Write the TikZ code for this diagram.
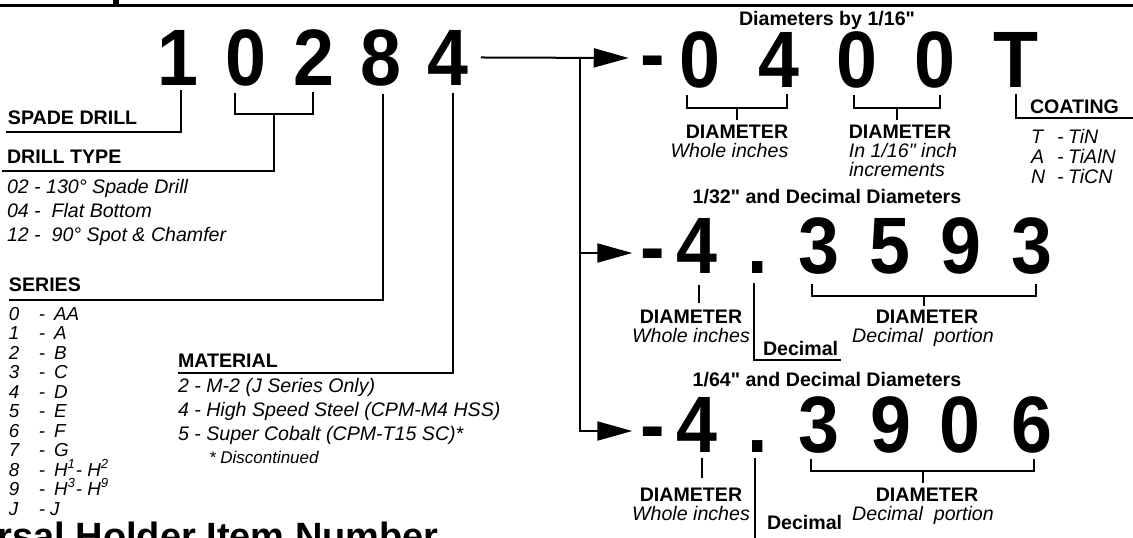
\documentclass[tikz,border=0pt]{standalone}
\usepackage{fontspec}
\setmainfont{Liberation Sans}[Ligatures=TeXOff]
\newfontfamily\digitfont{Liberation Sans}[Ligatures=TeXOff, FakeStretch=0.92]
\usetikzlibrary{arrows.meta, calc}
\tikzset{
  every node/.style={inner sep=0pt, outer sep=0pt},
  digit/.style={font=\digitfont\fontsize{40}{40}\selectfont\bfseries, anchor=base},
  head/.style={font=\fontsize{9.8}{11}\selectfont\bfseries},
  note/.style={font=\fontsize{9.8}{11}\selectfont\itshape},
  series/.style={font=\fontsize{9.4}{10}\selectfont\itshape, anchor=base west},
  link/.style={line width=1pt},
  arrow/.style={link, -{Triangle[length=17.5pt, width=9.5pt]}},
  banner/.style={font=\fontsize{19}{20}\selectfont\bfseries, anchor=base west},
}
% bracket under a run of digits: name, left digit, right digit, left dx, right dx, gap, drop
\newcommand{\digitbracket}[7]{
  \path ($(#2.south)+(#4,#6)$) coordinate (#1L) ($(#3.south)+(#5,#6)$) coordinate (#1R);
  \draw[link] (#1L) -- ++(0,#7) -| (#1R);
  \coordinate (#1) at ($(#1L)!0.5!(#1R)+(0,#7)$);
}
\begin{document}
\begin{tikzpicture}[x=0.5pt, y=-0.5pt]
  \useasboundingbox (0,0) rectangle (1133,537);
  \clip (0,0) rectangle (1133,537);
  % top rule
  \draw[line width=1.5pt] (0,5) -- (1133,5);
  \fill (113,0) rectangle (119,5);
  % item number
  \node[digit] (d1) at (178,85) {1};
  \node[digit] (d2) at (245.5,85) {0};
  \node[digit] (d3) at (313.5,85) {2};
  \node[digit] (d4) at (380.5,85) {8};
  \node[digit] (d5) at (447.5,85) {4};
  % spade drill and drill type
  \node[head, anchor=base west] (spade) at (8,124) {SPADE DRILL};
  \draw[link] ($(d1.south)+(3,5)$) |- ($(spade.base west)+(-2,8)$);
  \node[head, anchor=base west] (dtype) at (7,163) {DRILL TYPE};
  \digitbracket{br02}{d2}{d3}{-10.5}{-0.5}{7}{21}
  \draw[link] (br02) |- ($(dtype.base west)+(-5,8)$);
  \node[note, anchor=base west] (t02) at (7,193) {02 - 130° Spade Drill};
  \node[note, anchor=base west] (t04) at (7,217) {04 -\ \ Flat Bottom};
  \node[note, anchor=base west] (t12) at (7,241) {12 -\ \ 90° Spot \& Chamfer};
  % series
  \node[head, anchor=base west] (series) at (9,291) {SERIES};
  \draw[link] ($(d4.south)+(2.5,8)$) |- ($(series.base west)+(0,9)$);
  \foreach \code/\grade/\gx [count=\k from 0] in {0/AA/54, 1/A/54, 2/B/54, 3/C/54, 4/D/54, 5/E/54, 6/F/54, 7/G/54,
      8/{H\textsuperscript{1}- H\textsuperscript{2}}/54, 9/{H\textsuperscript{3}- H\textsuperscript{9}}/54, J/J/50} {
    \node[series] (sc\k) at (9,320+19.5*\k) {\code};
    \node[series] (sd\k) at (39,320+19.5*\k) {-};
    \node[series] (sg\k) at (\gx,320+19.5*\k) {\grade};
  }
  % material
  \node[head, anchor=base west] (material) at (178,367) {MATERIAL};
  \draw[link] ($(d5.south)+(5.5,8)$) |- ($(material.base west)+(0,6)$);
  \node[note, anchor=base west] (m2) at (178,392) {2 - M-2 (J Series Only)};
  \node[note, anchor=base west] (m4) at (178,416) {4 - High Speed Steel (CPM-M4 HSS)};
  \node[note, anchor=base west] (m5) at (178,440) {5 - Super Cobalt (CPM-T15 SC)*};
  \node[font=\fontsize{8.5}{10}\selectfont\itshape, anchor=base west] (disc) at (209,463) {* Discontinued};
  \node[banner] (banner) at (-106,549) {Universal Holder Item Number};

  % diameters by 1/16"
  \node[head, anchor=base] (capA) at (827,25) {Diameters by 1/16"};
  \node[digit] (hA) at (653,81) {-};
  \node[digit] (a1) at (700,87) {0};
  \node[digit] (a2) at (778.5,87) {4};
  \node[digit] (a3) at (856.5,87) {0};
  \node[digit] (a4) at (935,87) {0};
  \node[digit] (aT) at (1016,87) {T};
  \coordinate (bus) at ($(d5.east)+(112.5,0)$);
  \draw[arrow] ($(d5.east)+(13,0)$) -- ($(hA.base west)+(-12,-23)$);
  \digitbracket{brA1}{a1}{a2}{-13}{8.5}{7}{13}
  \digitbracket{brA2}{a3}{a4}{-2.5}{5}{7}{13}
  \node[head, anchor=base] (diaA1) at (737,138) {DIAMETER};
  \node[note, anchor=base] (wholeA) at (729.5,157) {Whole inches};
  \draw[link] (brA1) -- ($(brA1 |- diaA1.north)+(0,-5)$);
  \node[head, anchor=base] (diaA2) at (900,138) {DIAMETER};
  \node[note, anchor=base] (sixteenA) at (903,157) {In 1/16" inch};
  \node[note, anchor=base] (incA) at (897,176) {increments};
  \draw[link] (brA2) -- ($(brA2 |- diaA2.north)+(0,-5)$);
  % coating
  \node[head, anchor=base west] (coat) at (1030,113) {COATING};
  \coordinate (coatEnd) at (1140,118);
  \draw[link] ($(aT.south)+(0,7)$) |- (coatEnd);
  \foreach \c/\v [count=\k from 0] in {T/TiN, A/TiAlN, N/TiCN} {
    \node[note, anchor=base west] (cc\k) at (1031,143+20*\k) {\c};
    \node[note, anchor=base west] (cd\k) at (1057,143+20*\k) {-};
    \node[note, anchor=base west] (cv\k) at (1068,143+20*\k) {\v};
  }

  % 1/32" and decimal
  \node[head, anchor=base] (capB) at (827,203) {1/32" and Decimal Diameters};
  \node[digit] (hB) at (652.5,274) {-};
  \node[digit] (b1) at (696.5,273) {4};
  \node[digit] (bdot) at (757.5,273) {.};
  \node[digit] (b2) at (818.5,273) {3};
  \node[digit] (b3) at (889.5,273) {5};
  \node[digit] (b4) at (961,273) {9};
  \node[digit] (b5) at (1031.5,273) {3};
  \draw[arrow] (bus) |- ($(hB.base west)+(-8,-21)$);
  \node[head, anchor=base] (diaB1) at (691,323) {DIAMETER};
  \node[note, anchor=base] (wholeB) at (691,342) {Whole inches};
  \draw[link] ($(b1.south)+(2.5,12)$) -- ($(b1.south |- diaB1.north)+(2.5,-7)$);
  \node[head, anchor=base west] (decB) at (763,355) {Decimal};
  \draw[link] ($(bdot.south)+(-3.5,10)$) |- ($(decB.base east)+(3,5)$);
  \digitbracket{brB}{b2}{b5}{-6.5}{4.5}{10}{12}
  \node[head, anchor=base] (diaB2) at (927,323) {DIAMETER};
  \node[note, anchor=base] (portB) at (923,342) {Decimal\ \ portion};
  \draw[link] (brB) -- ($(brB |- diaB2.north)+(0,-4)$);

  % 1/64" and decimal
  \node[head, anchor=base] (capC) at (827,386) {1/64" and Decimal Diameters};
  \node[digit] (hC) at (652.5,452) {-};
  \node[digit] (c1) at (696.5,452) {4};
  \node[digit] (cdot) at (757.5,452) {.};
  \node[digit] (c2) at (818.5,452) {3};
  \node[digit] (c3) at (891,452) {9};
  \node[digit] (c4) at (960,452) {0};
  \node[digit] (c5) at (1031.5,452) {6};
  \draw[arrow] (bus) |- ($(hC.base west)+(-8,-21)$);
  \node[head, anchor=base] (diaC1) at (691,501) {DIAMETER};
  \node[note, anchor=base] (wholeC) at (691,520) {Whole inches};
  \draw[link] ($(c1.south)+(5.5,6)$) -- ($(c1.south |- diaC1.north)+(5.5,-10)$);
  \node[head, anchor=base west] (decC) at (767,529) {Decimal};
  \draw[link] ($(cdot.south)+(-2.5,6)$) -- ($(cdot.south)+(-2.5,95)$);
  \digitbracket{brC}{c2}{c5}{-7.5}{2.5}{6}{12}
  \node[head, anchor=base] (diaC2) at (927,501) {DIAMETER};
  \node[note, anchor=base] (portC) at (923,520) {Decimal\ \ portion};
  \draw[link] (brC) -- ($(brC |- diaC2.north)+(0,-5)$);
\end{tikzpicture}
\end{document}
